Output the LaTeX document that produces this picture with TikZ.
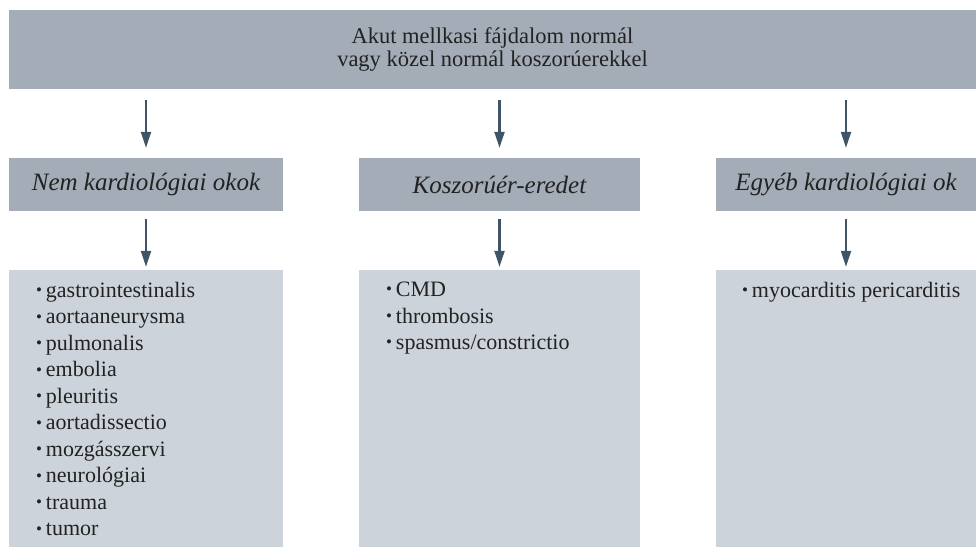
\documentclass[tikz,border=0pt]{standalone}
\usepackage{fontspec}
\setmainfont{Liberation Serif}
\usetikzlibrary{arrows.meta}
\definecolor{fejszin}{HTML}{A3ACB7}
\definecolor{listaszin}{HTML}{CDD3DB}
\definecolor{nyilszin}{HTML}{3F5467}
\definecolor{betu}{HTML}{222222}
\newcommand{\pont}{\raisebox{0.08em}{\fontsize{17}{17}\selectfont\textbullet}\kern4pt}

\begin{document}
\begin{tikzpicture}[x=1pt,y=-1pt]
    \tikzset{%
      fej/.style={rectangle, fill=fejszin, inner sep=0pt, text=betu,
        align=center, font=\fontsize{22.5}{23.5}\selectfont},
      ok/.style={fej, font=\fontsize{25}{25}\selectfont\itshape},
      lista/.style={rectangle, fill=listaszin, inner sep=0pt},
      tetel/.style={anchor=north west, inner sep=0pt, align=left,
        text=betu, font=\fontsize{22}{26.5}\selectfont},
      nyil/.style={draw=nyilszin, line width=2.2pt,
        -{Triangle[length=16pt,width=10pt]}},
    }
    \useasboundingbox (0,0) rectangle (976,547);

    \node[fej, minimum width=967, minimum height=79] (fo) at (492.5,49.5)
      {Akut mellkasi fájdalom normál\\vagy közel normál koszorúerekkel};

    \node[ok, minimum width=274, minimum height=53] (nk) at (146,184.5) {Nem kardiológiai okok};
    \node[ok, minimum width=281, minimum height=53] (ke) at (499.5,184.5) {Koszorúér-eredet};
    \node[ok, minimum width=260, minimum height=53] (ek) at (846,184.5) {Egyéb kardiológiai ok};

    \node[lista, minimum width=274, minimum height=277] (nkl) at (146,408.5) {};
    \node[lista, minimum width=281, minimum height=277] (kel) at (499.5,408.5) {};
    \node[lista, minimum width=260, minimum height=277] (ekl) at (846,408.5) {};

    \node[tetel] (t1) at ([xshift=27pt,yshift=-12pt]nkl.north west)
      {\pont gastrointestinalis\\\pont aortaaneurysma\\\pont pulmonalis\\
       \pont embolia\\\pont pleuritis\\\pont aortadissectio\\
       \pont mozgásszervi\\\pont neurológiai\\\pont trauma\\\pont tumor};
    \node[tetel] (t2) at ([xshift=27pt,yshift=-12pt]kel.north west)
      {\pont CMD\\\pont thrombosis\\\pont spasmus/constrictio};
    \node[tetel] (t3) at ([xshift=26pt,yshift=-12pt]ekl.north west)
      {\pont myocarditis pericarditis};

    % elso sor nyilai
    \draw[nyil, shorten <=11pt, shorten >=10pt] (fo.south -| nk.north) -- (nk.north);
    \draw[nyil, shorten <=11pt, shorten >=10pt] (fo.south -| ke.north) -- (ke.north);
    \draw[nyil, shorten <=11pt, shorten >=10pt] (fo.south -| ek.north) -- (ek.north);

    % masodik sor
    \draw[nyil, shorten <=8pt, shorten >=3pt] (nk) -- (nkl);
    \draw[nyil, shorten <=8pt, shorten >=3pt] (ke) -- (kel);
    \draw[nyil, shorten <=8pt, shorten >=3pt] (ek) -- (ekl);
\end{tikzpicture}
\end{document}
